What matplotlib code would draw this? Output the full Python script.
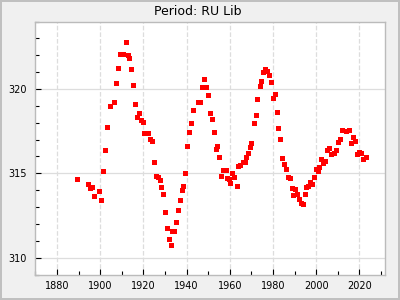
import matplotlib
matplotlib.use("Agg")
import matplotlib.pyplot as plt
from matplotlib.ticker import MultipleLocator

# RU Lib period values (10 per row, rows match)
years = [1889.1, 1894.2, 1895.2, 1896.3, 1897.0, 1899.3, 1900.3, 1901.2, 1902.1, 1903.1,
         1904.5, 1906.3, 1907.3, 1908.2, 1909.0, 1910.4, 1911.9, 1912.8, 1913.3, 1914.2,
         1915.2, 1916.1, 1917.0, 1918.0, 1918.9, 1919.8, 1920.3, 1922.1, 1923.1, 1924.0,
         1924.9, 1925.8, 1926.8, 1927.7, 1928.2, 1929.1, 1930.0, 1931.0, 1931.9, 1932.8,
         1933.3, 1934.2, 1935.2, 1936.1, 1937.0, 1938.0, 1938.4, 1939.3, 1940.3, 1941.2,
         1942.1, 1943.1, 1945.4, 1946.3, 1947.3, 1948.2, 1949.1, 1950.0, 1951.0, 1951.9,
         1952.8, 1953.8, 1954.2, 1955.2, 1956.1, 1957.0, 1958.0, 1958.9, 1959.8, 1960.3,
         1961.2, 1962.1, 1963.1, 1964.0, 1964.9, 1965.9, 1966.8, 1967.3, 1968.2, 1969.1,
         1970.0, 1971.0, 1971.9, 1972.8, 1973.8, 1974.2, 1975.2, 1976.1, 1977.0, 1978.0,
         1978.9, 1979.8, 1980.7, 1981.7, 1982.1, 1983.1, 1984.0, 1984.9, 1985.9, 1986.8,
         1987.7, 1988.7, 1989.1, 1990.0, 1991.0, 1991.9, 1992.8, 1993.8, 1994.7, 1995.2,
         1996.1, 1997.0, 1998.0, 1998.9, 1999.8, 2000.7, 2001.2, 2002.1, 2003.1, 2004.0,
         2004.9, 2005.9, 2006.8, 2008.2, 2009.1, 2010.0, 2011.0, 2011.9, 2013.8, 2015.2,
         2016.1, 2017.0, 2018.0, 2018.9, 2019.8, 2020.8, 2021.7, 2023.1]
values = [314.67, 314.37, 314.13, 314.19, 313.66, 313.95, 313.42, 315.14, 316.38, 317.75,
          318.99, 319.23, 320.36, 321.24, 322.07, 322.07, 322.79, 322.02, 321.84, 321.19,
          320.24, 319.11, 318.34, 318.58, 318.16, 318.04, 317.39, 317.39, 317.04, 316.92,
          315.67, 314.84, 314.78, 314.60, 314.19, 313.78, 312.71, 311.76, 311.11, 310.75,
          311.58, 311.58, 312.12, 312.83, 313.42, 314.01, 314.25, 315.02, 316.62, 317.45,
          317.98, 318.76, 319.23, 319.23, 320.12, 320.59, 320.12, 319.64, 318.58, 318.22,
          317.45, 316.44, 316.62, 315.97, 314.84, 315.20, 315.20, 314.72, 314.67, 314.43,
          315.02, 314.78, 314.25, 315.44, 315.50, 315.67, 315.67, 315.97, 316.21, 316.56,
          316.80, 317.98, 318.46, 319.41, 320.18, 320.47, 321.01, 321.19, 321.07, 320.83,
          320.41, 319.47, 319.70, 318.64, 317.69, 317.04, 315.91, 315.55, 315.26, 314.78,
          314.72, 314.13, 313.72, 314.07, 313.78, 313.48, 313.24, 313.18, 313.78, 314.19,
          314.25, 314.49, 314.37, 314.78, 315.26, 315.14, 315.38, 315.85, 315.61, 315.73,
          316.38, 316.50, 316.15, 316.21, 316.38, 316.86, 317.04, 317.57, 317.51, 317.57,
          316.80, 317.16, 316.92, 316.15, 316.27, 316.21, 315.85, 315.97]

fig = plt.figure(figsize=(4, 3), dpi=100, facecolor="#f0f0f0",
                 edgecolor="#c0c0c0", linewidth=1.5)
ax = fig.add_axes([0.0885, 0.085, 0.875, 0.843])
ax.set_facecolor("white")

ax.plot(years, values, "s", color="red", markersize=3.6, markeredgewidth=0)

ax.set_xlim(1870, 2032)
ax.set_ylim(309, 324)
ax.xaxis.set_major_locator(MultipleLocator(20))
ax.xaxis.set_minor_locator(MultipleLocator(10))
ax.yaxis.set_major_locator(MultipleLocator(5))
ax.yaxis.set_minor_locator(MultipleLocator(1))

ax.tick_params(which="both", direction="in", labelsize=7, color="black",
               top=False, right=False)
ax.tick_params(axis="y", which="both", pad=6.5)
ax.tick_params(axis="x", which="both", pad=5)
ax.tick_params(which="major", length=4, width=0.8)
ax.tick_params(which="minor", length=3, width=0.8)

ax.grid(True, axis="x", which="major", color="#dddddd", linestyle="--", linewidth=0.9)
ax.grid(True, axis="y", which="major", color="#dddddd", linestyle="-", linewidth=0.9)
ax.set_axisbelow(True)

for s in ax.spines.values():
    s.set_color("#bbbbbb")
    s.set_linewidth(1.0)

fig.text(0.495, 0.963, "Period: RU Lib", fontsize=9, ha="center", va="center")

fig.savefig("out.png", dpi=100, facecolor=fig.get_facecolor(),
            edgecolor=fig.get_edgecolor())
